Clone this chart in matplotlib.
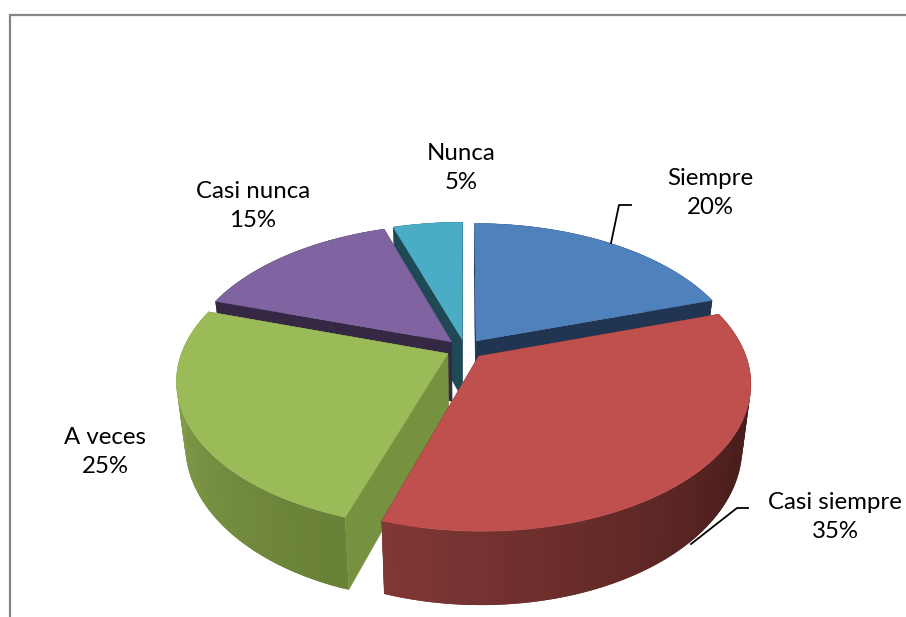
import numpy as np
import matplotlib
matplotlib.use("Agg")
import matplotlib.pyplot as plt
from matplotlib.colors import to_rgb

categories = ["Siempre", "Casi siempre", "A veces", "Casi nunca", "Nunca"]
values = [20, 35, 25, 15, 5]
top_colors = ["#4f81bd", "#c0504d", "#9bbb59", "#8064a2", "#4bacc6"]
radial_colors = ["#1f3552", "#5a2523", "#76913f", "#352844", "#1f4a55"]
wall_light = ["#1f3552", "#803735", "#8ca753", "#352844", "#1f4a55"]
wall_dark = ["#1f3552", "#4a1e1c", "#6a8138", "#352844", "#1f4a55"]
wall_ramp = [1, 1.55, 1.05, 1, 1]
label_pos = [(710, 193), (835, 517), (105, 452), (253, 206), (461, 168)]
draw_order = [4, 0, 3, 2, 1]

# projection settings, all in pixels
cx, cy = 465, 349
rx, ry = 265, 141
persp = 0.178
depth = 60
shrink = 0.03
explode = 0.072


def project(u, v, z=0.0):
    f = 1 / (1 - persp * v)
    x = cx + rx * u * f * (1 - shrink * z)
    y = cy + (ry * v + depth * z) * f
    return x, y


def shade(c1, c2, t):
    a = np.array(to_rgb(c1))
    b = np.array(to_rgb(c2))
    return tuple(a + (b - a) * t)


fig = plt.figure(figsize=(9.06, 6.17), dpi=100)
ax = fig.add_axes([0, 0, 1, 1])
ax.set_xlim(0, 906)
ax.set_ylim(617, 0)
ax.axis("off")

# chart frame, cut off on the right and at the bottom
ax.plot([10, 10, 906], [617, 15, 15], color="#868686", lw=1.6, solid_joinstyle="miter")

total = sum(values)
edges = np.cumsum([0] + values) / total * 2 * np.pi

for i in draw_order:
    t0, t1 = edges[i], edges[i + 1]
    mid = (t0 + t1) / 2
    ou = explode * np.sin(mid)
    ov = -explode * np.cos(mid)
    th = np.linspace(t0, t1, 80)
    us = ou + np.sin(th)
    vs = ov - np.cos(th)

    # radial walls
    for t in [t1, t0]:
        pts = [project(ou, ov, 0), project(ou + np.sin(t), ov - np.cos(t), 0),
               project(ou + np.sin(t), ov - np.cos(t), 1), project(ou, ov, 1)]
        ax.fill(*zip(*pts), color=radial_colors[i], lw=0.3)

    # outer wall in overlapping pieces so the gradient has no seams
    xt, yt = project(us, vs, 0)
    xb, yb = project(us, vs, 1)
    n = len(th)
    for k in range(n - 1):
        e = min(k + 3, n)
        col = shade(wall_light[i], wall_dark[i], min(1, (n - 2 - k) / (n - 2) * wall_ramp[i]))
        ax.fill(np.r_[xt[k:e], xb[k:e][::-1]], np.r_[yt[k:e], yb[k:e][::-1]],
                facecolor=col, edgecolor="none", lw=0)

    # top face
    ax0, ay0 = project(ou, ov, 0)
    ax.fill(np.r_[ax0, xt], np.r_[ay0, yt], color=top_colors[i], lw=0.3)

# leader lines
ax.plot([611, 619, 631], [243, 205, 205], color="black", lw=1.3)
ax.plot([691, 737, 748], [544, 508, 508], color="black", lw=1.3)

for name, val, (x, y) in zip(categories, values, label_pos):
    ax.text(x, y, f"{name}\n{val}%", ha="center", va="center", fontsize=17.3,
            family="Lato", color="black", linespacing=1.42)

fig.savefig("out.png", dpi=100)
